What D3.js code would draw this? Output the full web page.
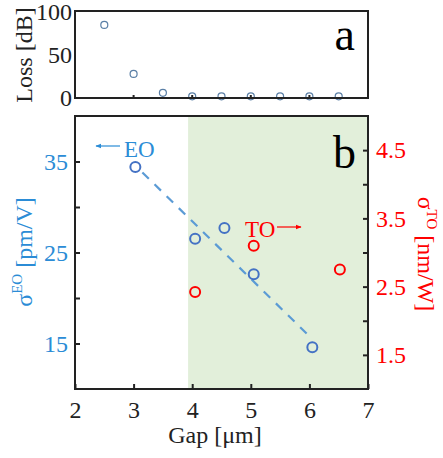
<!DOCTYPE html>
<html>
<head>
<meta charset="utf-8">
<script src="https://cdn.jsdelivr.net/npm/d3@7"></script>
</head>
<body style="margin:0">
<script>
// panel a: loss vs gap
var lossGap = [2.5, 3, 3.5, 4, 4.5, 5, 5.5, 6, 6.5];
var lossVal = [85, 28, 6, 2, 2, 2, 2, 2, 2];

// panel b: EO and TO vs gap
var eoGap = [3.03, 4.05, 4.55, 5.05, 6.05];
var eoVal = [34.4, 26.5, 27.7, 22.6, 14.6];
var toGap = [4.05, 5.05, 6.52];
var toVal = [2.42, 3.1, 2.75];
var fitGap = [3.15, 6.0];
var fitVal = [33.8, 15.8];
var shadeGap = [3.93, 7];

var xTicks = [2, 3, 4, 5, 6, 7];
var lossTicks = [0, 50, 100];
var eoTicks = [15, 20, 25, 30, 35];
var eoLabels = [15, 25, 35];
var toTicks = [1.5, 2, 2.5, 3, 3.5, 4, 4.5];
var toLabels = [1.5, 2.5, 3.5, 4.5];

var W = 443, H = 458;
var left = 75, right = 368;
var aTop = 11, aBot = 98;
var bTop = 116, bBot = 389;
var blueTxt = '#2b8cd6', blueMk = '#4472c4', blueLine = '#5b9bd5', red = '#ff0000';
var fs = 24;

var svg = d3.select('body').append('svg')
    .attr('width', W)
    .attr('height', H);

var x = d3.scaleLinear().domain([2, 7]).range([left, right]);
var yA = d3.scaleLinear().domain([0, 100]).range([aBot, aTop + 1]);
var yEO = d3.scaleLinear().domain([10, 40]).range([bBot, bTop]);
var yTO = d3.scaleLinear().domain([1, 5]).range([bBot, bTop]);

// ---- panel a ----
var gA = svg.append('g');
gA.selectAll('circle')
    .data(lossGap)
    .enter()
    .append('circle')
    .attr('cx', function(d) { return x(d); })
    .attr('cy', function(d, i) { return yA(lossVal[i]); })
    .attr('r', 3.5)
    .attr('fill', 'none')
    .attr('stroke', '#5a7fa6')
    .attr('stroke-width', 1.2);

// small ticks on bottom of panel a
gA.selectAll('line.xt')
    .data([3, 4, 5, 6])
    .enter()
    .append('line')
    .attr('x1', function(d) { return x(d); })
    .attr('x2', function(d) { return x(d); })
    .attr('y1', aBot)
    .attr('y2', aBot - 3)
    .attr('stroke', '#222')
    .attr('stroke-width', 2);

gA.append('rect')
    .attr('x', left).attr('y', aTop)
    .attr('width', right - left).attr('height', aBot - aTop)
    .attr('fill', 'none').attr('stroke', '#222').attr('stroke-width', 2);

gA.selectAll('text.yt')
    .data(lossTicks)
    .enter()
    .append('text')
    .attr('x', left - 3)
    .attr('y', function(d) { return yA(d) + 8; })
    .attr('text-anchor', 'end')
    .attr('font-size', fs)
    .attr('fill', '#222')
    .text(function(d) { return d; });

gA.append('text')
    .attr('transform', 'translate(32,55) rotate(-90)')
    .attr('text-anchor', 'middle')
    .attr('font-size', fs)
    .attr('fill', '#222')
    .text('Loss [dB]');

gA.append('text')
    .attr('x', 355).attr('y', 50)
    .attr('text-anchor', 'end')
    .attr('font-size', 46)
    .attr('fill', '#000')
    .text('a');

// ---- panel b ----
var gB = svg.append('g');

gB.append('rect')
    .attr('x', x(shadeGap[0])).attr('y', bTop)
    .attr('width', x(shadeGap[1]) - x(shadeGap[0]))
    .attr('height', bBot - bTop)
    .attr('fill', '#e2efda');

// fit line
gB.append('line')
    .attr('x1', x(fitGap[0])).attr('y1', yEO(fitVal[0]))
    .attr('x2', x(fitGap[1])).attr('y2', yEO(fitVal[1]))
    .attr('stroke', blueLine)
    .attr('stroke-width', 2.2)
    .attr('stroke-dasharray', '9,8');

gB.selectAll('circle.eo')
    .data(eoGap)
    .enter()
    .append('circle')
    .attr('cx', function(d) { return x(d); })
    .attr('cy', function(d, i) { return yEO(eoVal[i]); })
    .attr('r', 5)
    .attr('fill', 'none')
    .attr('stroke', blueMk)
    .attr('stroke-width', 2);

gB.selectAll('circle.to')
    .data(toGap)
    .enter()
    .append('circle')
    .attr('cx', function(d) { return x(d); })
    .attr('cy', function(d, i) { return yTO(toVal[i]); })
    .attr('r', 5)
    .attr('fill', 'none')
    .attr('stroke', red)
    .attr('stroke-width', 2);

function styleAxis(g, col) {
    g.attr('font-family', null).attr('font-size', null);
    g.select('.domain').remove();
    g.selectAll('line').attr('stroke', '#222').attr('stroke-width', 2);
    g.selectAll('text').attr('font-size', fs).attr('fill', col);
}

// axes
gB.append('g')
    .attr('transform', 'translate(0,' + bBot + ')')
    .call(d3.axisBottom(x).tickValues(xTicks).tickSize(-5).tickPadding(12).tickFormat(d3.format('d')))
    .call(styleAxis, '#222');

gB.append('g')
    .attr('transform', 'translate(' + left + ',0)')
    .call(d3.axisLeft(yEO).tickValues(eoTicks).tickSize(-5).tickPadding(7)
        .tickFormat(function(d) { return eoLabels.indexOf(d) >= 0 ? d : ''; }))
    .call(styleAxis, blueTxt);

gB.append('g')
    .attr('transform', 'translate(' + right + ',0)')
    .call(d3.axisRight(yTO).tickValues(toTicks).tickSize(-5).tickPadding(8)
        .tickFormat(function(d) { return toLabels.indexOf(d) >= 0 ? d3.format('.1f')(d) : ''; }))
    .call(styleAxis, red);

gB.append('rect')
    .attr('x', left).attr('y', bTop)
    .attr('width', right - left).attr('height', bBot - bTop)
    .attr('fill', 'none').attr('stroke', '#222').attr('stroke-width', 2);

gB.append('text')
    .attr('x', 356).attr('y', 168)
    .attr('text-anchor', 'end')
    .attr('font-size', 46)
    .attr('fill', '#000')
    .text('b');

// annotations
var defs = svg.append('defs');
function arrowHead(id, col) {
    defs.append('marker')
        .attr('id', id)
        .attr('viewBox', '0 0 10 10')
        .attr('refX', 9).attr('refY', 5)
        .attr('markerWidth', 5).attr('markerHeight', 5)
        .attr('orient', 'auto')
        .append('path')
        .attr('d', 'M0,1L10,5L0,9Z')
        .attr('fill', col);
}
arrowHead('arrB', blueTxt);
arrowHead('arrR', red);

gB.append('line')
    .attr('x1', 120).attr('y1', 146).attr('x2', 96).attr('y2', 146)
    .attr('stroke', blueTxt).attr('stroke-width', 1.2)
    .attr('marker-end', 'url(#arrB)');
gB.append('text')
    .attr('x', 124).attr('y', 157)
    .attr('font-size', 23).attr('fill', blueTxt)
    .text('EO');

gB.append('text')
    .attr('x', 245).attr('y', 237)
    .attr('font-size', 23).attr('fill', red)
    .text('TO');
gB.append('line')
    .attr('x1', 277).attr('y1', 227).attr('x2', 301).attr('y2', 227)
    .attr('stroke', red).attr('stroke-width', 1.2)
    .attr('marker-end', 'url(#arrR)');

// axis titles
var eoTitle = svg.append('text')
    .attr('transform', 'translate(32,252) rotate(-90)')
    .attr('text-anchor', 'middle')
    .attr('font-size', fs)
    .attr('fill', blueTxt);
eoTitle.append('tspan').text('σ');
eoTitle.append('tspan').attr('font-size', 15).attr('dy', -10).text('EO');
eoTitle.append('tspan').attr('dy', 10).text(' [pm/V]');

var toTitle = svg.append('text')
    .attr('transform', 'translate(418,254) rotate(90)')
    .attr('text-anchor', 'middle')
    .attr('font-size', fs)
    .attr('fill', red);
toTitle.append('tspan').text('σ');
toTitle.append('tspan').attr('font-size', 15).attr('dy', -9).text('TO');
toTitle.append('tspan').attr('dy', 9).text(' [nm/W]');

svg.append('text')
    .attr('x', 215).attr('y', 443)
    .attr('text-anchor', 'middle')
    .attr('font-size', fs)
    .attr('fill', '#222')
    .text('Gap [μm]');

// one serif font for every text
svg.selectAll('text')
    .attr('font-family', 'Liberation Serif')
    .style('font-family', function() { return '"Liberation Serif"'; });
</script>
</body>
</html>
